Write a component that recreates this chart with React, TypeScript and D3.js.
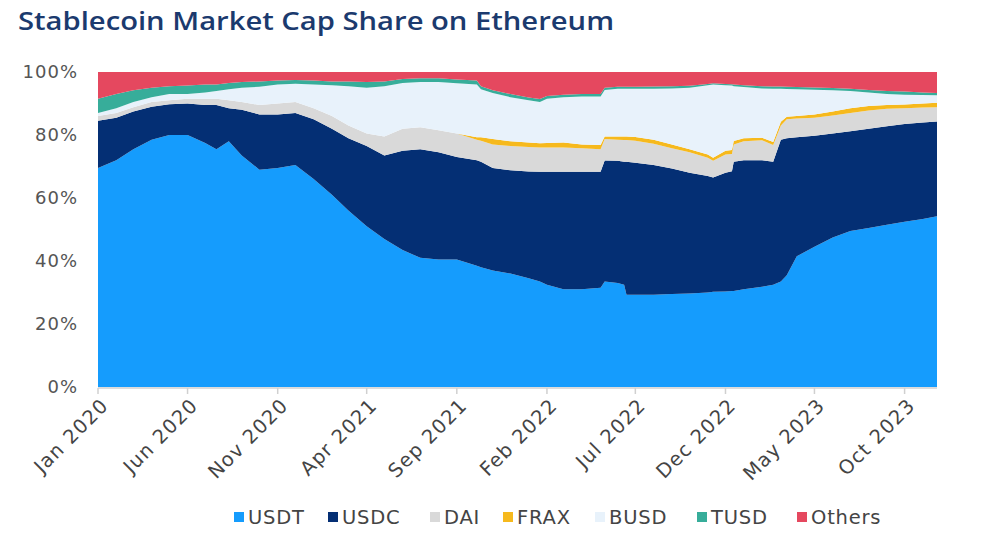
import React from "react";
import * as d3 from "d3";

// ---- Data (share of stablecoin market cap on Ethereum, %) ----
const dates: string[] = [
  "2020-01-01","2020-02-01","2020-03-01","2020-04-01","2020-05-01","2020-06-01","2020-07-01","2020-07-20",
  "2020-08-10","2020-09-01","2020-10-01","2020-11-01","2020-12-01","2021-01-01","2021-02-01","2021-03-01",
  "2021-04-01","2021-05-01","2021-06-01","2021-07-01","2021-08-01","2021-09-01","2021-10-05","2021-10-12",
  "2021-11-01","2021-12-01","2022-01-01","2022-01-20","2022-02-01","2022-03-01","2022-04-01","2022-05-03",
  "2022-05-10","2022-06-01","2022-06-12","2022-06-16","2022-07-01","2022-08-01","2022-09-01","2022-10-01",
  "2022-11-01","2022-11-10","2022-12-01","2022-12-12","2022-12-15","2023-01-01","2023-02-01","2023-02-20",
  "2023-03-05","2023-03-15","2023-04-01","2023-05-01","2023-06-01","2023-07-01","2023-08-01","2023-09-01",
  "2023-10-01","2023-11-01","2023-11-25",
];

const USDT: number[] = [
  69.5,72,75.5,78.5,80,80,77.5,75.5,78,73.5,69,69.5,70.5,66,61,56,
  51,47,43.5,41,40.5,40.5,38.5,38,37,36,34.5,33.5,32.5,31,31,31.5,
  33.5,33,32.5,29.3,29.3,29.3,29.5,29.7,30,30.2,30.3,30.5,30.5,31,31.8,32.5,
  33.5,35.5,41.5,44.5,47.5,49.5,50.5,51.5,52.5,53.3,54.2,
];
const USDC: number[] = [
  15,13.5,12,10.5,9.8,10,12,14,10.5,14.5,17.5,17,16.5,19,21,23,
  25.5,26.5,31.5,34.5,34,32.5,33.5,33.5,32.5,32.8,33.9,34.8,35.8,37.3,37.3,36.8,
  38.5,38.8,39,42.2,41.9,41.2,39.9,38.3,37,36.3,37.7,38,41,41,40.2,39,
  45,43.5,37.8,35.3,33,31.7,31.5,31.3,31,30.7,30.1,
];
const DAI: number[] = [
  1.5,1.5,1.3,1.5,1.2,1.5,2,2,2.5,2.5,3,3.5,3.5,3.5,4,4,
  4,6,7,7,7,7.5,6.5,6.7,7.5,7.7,7.8,7.7,7.7,7.7,7.5,7.2,
  6.8,6.7,6.9,6.9,7,6.7,6.4,6.5,5.8,5.3,5.8,5.5,5.5,6,6.3,5.3,
  4.5,6,5.9,5.7,5.7,5.8,5.8,5.5,5,4.7,4.5,
];
const FRAX: number[] = [
  0,0,0,0,0,0,0,0,0,0,0,0,0,0,0,0,
  0,0,0,0,0,0,0.8,1.1,1.7,1.5,1.4,1.4,1.5,1.6,1.2,1.3,
  0.8,1,1.1,1.1,1.2,1.3,1.2,1,1,1,1.2,1.2,1.1,1,0.8,1,
  1.2,0.8,0.8,1,1.3,1.5,1.4,1.2,1.2,1.3,1.4,
];
const BUSD: number[] = [
  1,1.5,1.7,1.5,2,1.5,2,2.5,3.5,4.5,5.8,6,5.8,7.5,9.8,12.5,
  14.5,16,14.5,14.3,15.3,15.9,16.7,15.2,14.6,14,13.4,13.1,14,14.4,15.2,15.4,
  14.8,15.2,15.2,15.2,15.3,16.2,17.8,19.5,22,23.2,20.8,20.5,17.4,16.2,15.7,16.9,
  10.5,8.8,8.5,7.9,6.7,5.5,4.3,3.5,3.1,2.7,2.4,
];
const TUSD: number[] = [
  4.5,4.5,3.7,3,2.5,2.7,2.5,2,2,1.8,1.7,1.3,1.2,1.3,1.2,1.5,
  1.8,1.5,1.3,1.2,1.2,1.2,1.3,1,0.9,1,0.9,0.9,0.9,0.8,0.8,0.8,
  0.7,0.6,0.6,0.6,0.6,0.7,0.7,0.6,0.4,0.4,0.4,0.4,0.5,0.6,0.7,0.7,
  0.7,0.7,0.7,0.7,0.7,0.7,0.8,1,1,0.8,0.7,
];
const Others: number[] = [
  8.5,7,5.8,5,4.5,4.3,4,4,3.5,3.2,3,2.7,2.5,2.7,3,3,
  3.2,3,2.2,2,2,2.4,2.7,4.5,5.8,7,8.1,8.6,7.6,7.2,7,7,
  5,4.7,4.7,4.7,4.7,4.6,4.5,4.4,3.8,3.6,3.8,3.9,4,4.2,4.5,4.6,
  4.6,4.7,4.8,4.9,5.1,5.3,5.7,6,6.2,6.5,6.7,
];

const seriesNames = ["USDT", "USDC", "DAI", "FRAX", "BUSD", "TUSD", "Others"];
const seriesValues = [USDT, USDC, DAI, FRAX, BUSD, TUSD, Others];
const colors = ["#159cfd", "#042f74", "#d9d9d9", "#f6b91d", "#e8f2fb", "#37ad9a", "#e5485f"];
const yTickValues = [0, 0.2, 0.4, 0.6, 0.8, 1];
const xTickLabels = ["Jan 2020","Jun 2020","Nov 2020","Apr 2021","Sep 2021","Feb 2022","Jul 2022","Dec 2022","May 2023","Oct 2023"];
const title = "Stablecoin Market Cap Share on Ethereum";

// ---- Layout ----
const W = 1000, H = 539;
const M = { left: 98, right: 937, top: 72, bottom: 387 };
const legendX = [234, 328, 430, 503, 595, 697, 797];
const FONT = "'DejaVu Sans', sans-serif";
const TITLE_FONT = "'Open Sans', 'DejaVu Sans', sans-serif";

export default function App() {
  const parse = d3.timeParse("%Y-%m-%d");
  const rows = dates.map((d, i) => {
    const total = seriesValues.reduce((s, arr) => s + arr[i], 0);
    const r: any = { date: parse(d) };
    seriesNames.forEach((k, j) => (r[k] = seriesValues[j][i] / total));
    return r;
  });

  const x = d3.scaleTime()
    .domain([parse(dates[0])!, parse(dates[dates.length - 1])!])
    .range([M.left, M.right]);
  const y = d3.scaleLinear().domain([0, 1]).range([M.bottom, M.top]);

  const stack = d3.stack<any>().keys(seriesNames);
  const layers = stack(rows);
  const area = d3.area<any>()
    .x((d) => x(d.data.date))
    .y0((d) => y(d[0]))
    .y1((d) => y(d[1]))
    .curve(d3.curveLinear);

  const start = parse(dates[0])!;
  const xTicks = xTickLabels.map((lab, i) => ({ lab, date: d3.timeMonth.offset(start, i * 5) }));
  const fmtPct = d3.format(".0%");

  return (
    <svg width={W} height={H} style={{ position: "absolute", left: 0, top: 0, background: "#fff" }}>
      <text x={18} y={30} fontFamily={TITLE_FONT} fontSize={26} fontWeight={600} fill="#1b3a6e"
        textLength={596} lengthAdjust="spacingAndGlyphs">{title}</text>

      {layers.map((layer, i) => (
        <path key={seriesNames[i]} d={area(layer) || ""} fill={colors[i]} />
      ))}

      {/* y axis labels */}
      {yTickValues.map((v) => (
        <text key={v} x={78} y={y(v)} dy="0.36em" textAnchor="end" fontFamily={FONT} fontSize={18} fill="#555" letterSpacing={1}>
          {fmtPct(v)}
        </text>
      ))}

      {/* x axis */}
      <line x1={M.left} x2={M.right} y1={M.bottom + 1} y2={M.bottom + 1} stroke="#d0d0d0" strokeWidth={1.5} />
      {xTicks.map((t) => (
        <g key={t.lab} transform={`translate(${x(t.date)},${M.bottom + 1})`}>
          <line y1={0} y2={6} stroke="#d0d0d0" strokeWidth={1.5} />
          <text transform="translate(2,9) rotate(-45)" textAnchor="end" dy="0.7em" fontFamily={FONT} fontSize={19.5} fill="#444" letterSpacing={1.2}>
            {t.lab}
          </text>
        </g>
      ))}

      {/* legend */}
      {seriesNames.map((k, i) => (
        <g key={k} transform={`translate(${legendX[i]},517)`}>
          <rect x={0} y={-5} width={10} height={10} fill={colors[i]} />
          <text x={14} y={0} dy="0.36em" fontFamily={FONT} fontSize={19.5} fill="#444" letterSpacing={0.8}>{k}</text>
        </g>
      ))}
    </svg>
  );
}
